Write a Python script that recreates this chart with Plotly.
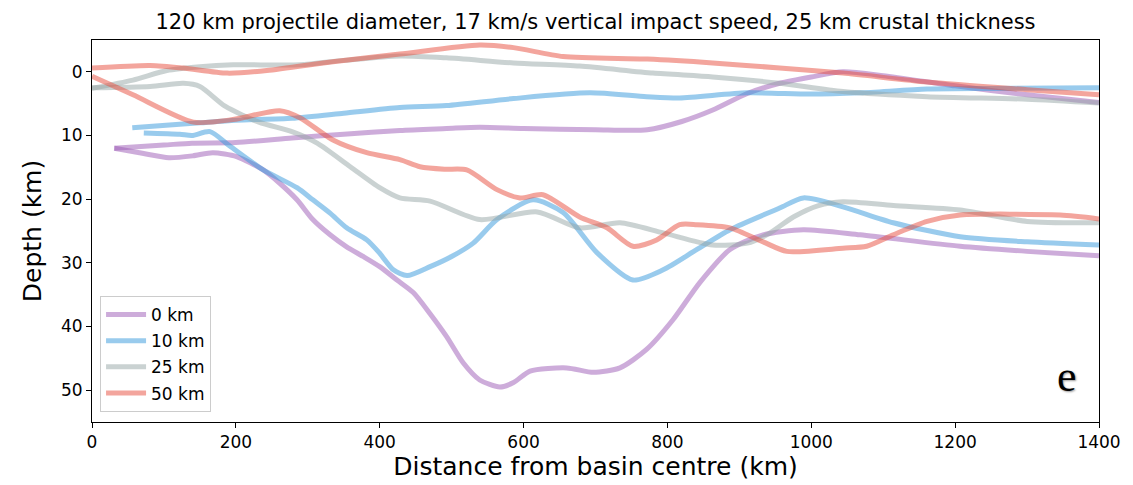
import plotly.graph_objects as go

# Layer boundaries (top and bottom) for each initial thickness, depth in km vs distance in km
purple_top_x = [31, 100, 139, 200, 278, 350, 428, 493, 539, 600, 700, 772, 820, 863, 911, 956, 1000, 1044, 1100, 1200, 1300, 1400]
purple_top_y = [12, 11.5, 11.2, 11.1, 10.4, 9.8, 9.2, 8.9, 8.7, 8.9, 9.1, 9.1, 7.8, 6.0, 3.4, 1.8, 0.8, 0.0, 0.6, 2.2, 3.6, 4.8]
purple_bot_x = [31, 70, 107, 140, 168, 201, 238, 261, 285, 307, 331, 354, 377, 400, 424, 447, 470, 493, 516, 539, 567, 586,
                609, 660, 697, 734, 771, 808, 845, 887, 933, 989, 1068, 1207, 1300, 1400]
purple_bot_y = [12, 12.8, 13.5, 13.2, 12.7, 13.3, 15.4, 17.5, 20.1, 23.2, 25.6, 27.5, 29, 30.6, 32.7, 34.7, 38, 41.6, 45.7, 48.4, 49.5, 48.8,
                47, 46.5, 47.2, 46.5, 43.6, 38.9, 33.1, 27.9, 25.6, 24.8, 25.6, 27.4, 28.2, 28.9]

blue_top_x = [56, 150, 200, 278, 350, 428, 493, 586, 692, 771, 817, 911, 998, 1068, 1161, 1250, 1400]
blue_top_y = [8.8, 8.0, 7.6, 7.3, 6.5, 5.6, 5.3, 4.2, 3.3, 3.9, 4.1, 3.3, 3.5, 3.3, 2.7, 2.6, 2.5]
blue_bot_x = [72, 122, 139, 164, 192, 238, 285, 307, 331, 354, 382, 400, 419, 438, 470, 500, 530, 563, 613, 655, 702, 752,
              794, 841, 887, 956, 989, 1044, 1114, 1207, 1300, 1400]
blue_bot_y = [9.6, 9.8, 10.0, 9.4, 11.7, 15.4, 18.2, 20.1, 22.2, 24.5, 26.4, 28.5, 31.1, 32.0, 30.6, 29.0, 26.9, 23.2, 20.1, 22.1, 28.4, 32.7,
              31.1, 27.9, 24.8, 21.4, 19.8, 21.2, 23.7, 25.9, 26.7, 27.2]

grey_top_x = [0, 57, 104, 150, 196, 289, 350, 428, 493, 586, 678, 780, 863, 956, 1044, 1161, 1300, 1400]
grey_top_y = [2.6, 1.3, -0.2, -0.8, -1.1, -1.1, -1.8, -2.5, -2.2, -1.4, -0.9, 0.2, 0.8, 1.8, 3.1, 3.9, 4.3, 4.9]
grey_bot_x = [0, 81, 127, 150, 185, 232, 278, 313, 359, 400, 428, 470, 539, 619, 678, 734, 794, 863, 911, 940, 975, 1010,
              1044, 1114, 1207, 1300, 1400]
grey_bot_y = [2.5, 2.3, 1.8, 2.3, 5.4, 7.9, 9.4, 11.2, 14.9, 18.2, 19.8, 20.3, 23.2, 22.0, 24.5, 23.7, 25.3, 27.2, 26.9, 25.5, 22.8, 21.0,
              20.4, 21.0, 21.7, 23.5, 23.7]

red_top_x = [0, 81, 127, 188, 243, 335, 428, 539, 586, 655, 772, 863, 956, 1044, 1161, 1300, 1400]
red_top_y = [-0.6, -1.0, -0.6, 0.2, -0.2, -1.6, -2.8, -4.2, -3.8, -2.4, -2.0, -1.4, -0.6, 0.2, 1.6, 2.8, 3.6]
red_bot_x = [0, 57, 141, 196, 261, 289, 335, 382, 428, 456, 490, 521, 563, 595, 627, 678, 716, 752, 785, 817, 841, 887,
             933, 966, 1044, 1077, 1114, 1161, 1207, 1346, 1400]
red_bot_y = [0.7, 3.6, 7.9, 7.5, 6.1, 7.2, 10.7, 12.7, 13.8, 14.9, 15.3, 15.4, 18.5, 19.8, 19.3, 22.8, 24.5, 27.4, 26.4, 24.0, 24.0, 24.5,
             26.7, 28.2, 27.7, 27.4, 25.6, 23.5, 22.5, 22.5, 23.1]

labels = ["0 km", "10 km", "25 km", "50 km"]
colors = ["rgba(155,89,182,0.5)", "rgba(52,152,219,0.5)", "rgba(149,165,166,0.5)", "rgba(231,76,60,0.5)"]
series = [
    (purple_top_x, purple_top_y, purple_bot_x, purple_bot_y),
    (blue_top_x, blue_top_y, blue_bot_x, blue_bot_y),
    (grey_top_x, grey_top_y, grey_bot_x, grey_bot_y),
    (red_top_x, red_top_y, red_bot_x, red_bot_y),
]

font_family = "DejaVu Sans"
fig = go.Figure()
for name, color, (tx, ty, bx, by) in zip(labels, colors, series):
    for k, (xs, ys) in enumerate(((tx, ty), (bx, by))):
        fig.add_trace(go.Scatter(
            x=xs, y=ys, mode="lines", name=name, legendgroup=name,
            showlegend=(k == 0),
            line=dict(color=color, width=5, shape="spline", smoothing=0.7),
        ))

axis_common = dict(
    showline=True, linecolor="black", linewidth=1, mirror=True,
    ticks="outside", ticklen=5, tickcolor="black", tickwidth=1,
    showgrid=False, zeroline=False,
    tickfont=dict(family=font_family, size=17, color="black"),
)

fig.update_layout(
    width=1133, height=485,
    margin=dict(l=92, r=34, t=40, b=63),
    paper_bgcolor="white", plot_bgcolor="white",
    font=dict(family=font_family, color="black"),
    title=dict(
        text="120 km projectile diameter, 17 km/s vertical impact speed, 25 km crustal thickness",
        x=0.5256, xanchor="center", y=0.955, yanchor="middle",
        font=dict(family=font_family, size=21, color="black"),
    ),
    xaxis=dict(range=[0, 1400], tickvals=[0, 200, 400, 600, 800, 1000, 1200, 1400],
               title=dict(text="Distance from basin centre (km)", font=dict(family=font_family, size=25), standoff=4),
               **axis_common),
    yaxis=dict(range=[55, -5], tickvals=[0, 10, 20, 30, 40, 50],
               title=dict(text="Depth (km)", font=dict(family=font_family, size=25), standoff=12),
               **axis_common),
    legend=dict(
        x=0.008, y=0.026, xanchor="left", yanchor="bottom",
        bgcolor="rgba(255,255,255,0.8)", bordercolor="#cccccc", borderwidth=1,
        font=dict(family=font_family, size=17, color="black"),
        tracegroupgap=1, itemwidth=40,
    ),
    showlegend=True,
)

fig.add_annotation(
    text="e", xref="paper", yref="paper", x=0.968, y=0.118,
    xanchor="center", yanchor="middle", showarrow=False,
    font=dict(family="Liberation Serif", size=44, color="black", shadow="1px 1px 2px #999999"),
)

fig.write_html("out.html")
